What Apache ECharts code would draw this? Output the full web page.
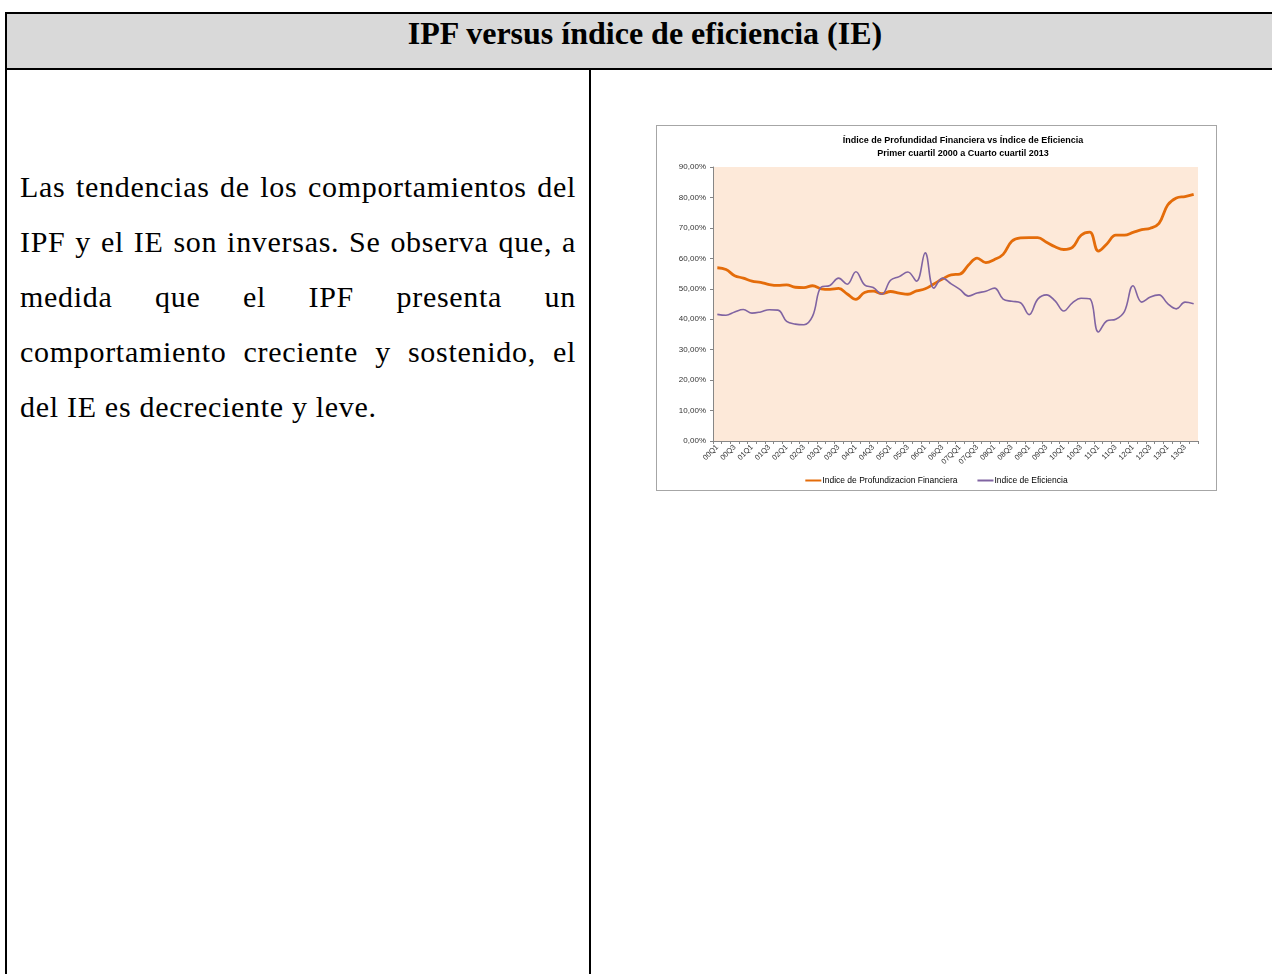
<!DOCTYPE html>
<html>
<head>
<meta charset="utf-8">
<script src="https://cdn.jsdelivr.net/npm/echarts@6/dist/echarts.min.js"></script>
<style>
	body{
		margin: 0;
		background: #ffffff;
		width: 1272px;
		height: 974px;
		overflow: hidden;
		position: relative;
	}
	.tablabox{
		position: absolute;
		left: 5px;
		top: 12px;
		width: 1280px;
		height: 1000px;
		border: 2px solid #000000;
		box-sizing: border-box;
	}
	.tablahead{
		position: absolute;
		left: 7px;
		top: 14px;
		width: 1276px;
		height: 54px;
		background: #d9d9d9;
		border-bottom: 2px solid #000000;
		font-family: "Liberation Serif", serif;
		font-weight: bold;
		font-size: 32px;
		line-height: 38px;
		text-align: center;
		color: #000000;
	}
	.tablasep{
		position: absolute;
		left: 589px;
		top: 69px;
		width: 2px;
		height: 920px;
		background: #000000;
	}
	.texto{
		position: absolute;
		left: 20px;
		top: 159px;
		width: 556px;
		font-family: "Liberation Serif", serif;
		font-size: 30px;
		letter-spacing: 0.7px;
		line-height: 55px;
		color: #000000;
	}
	.texto div{
		text-align: justify;
		text-align-last: justify;
		white-space: nowrap;
	}
	.texto div.ultima{
		text-align-last: left;
	}
	#grafico{
		position: absolute;
		left: 656px;
		top: 125px;
		width: 559px;
		height: 364px;
		border: 1px solid #a6a6a6;
	}
</style>
</head>
<body>
	<div class="tablabox"></div>
	<div class="tablahead">IPF versus índice de eficiencia (IE)</div>
	<div class="tablasep"></div>
	<div class="texto">
		<div>Las tendencias de los comportamientos del</div>
		<div>IPF y el IE son inversas. Se observa que, a</div>
		<div>medida que el IPF presenta un</div>
		<div>comportamiento creciente y sostenido, el</div>
		<div class="ultima">del IE es decreciente y leve.</div>
	</div>
	<div id="grafico"></div>
<script>
	var trimestres = [
		'00Q1','00Q2','00Q3','00Q4','01Q1','01Q2','01Q3','01Q4',
		'02Q1','02Q2','02Q3','02Q4','03Q1','03Q2','03Q3','03Q4',
		'04Q1','04Q2','04Q3','04Q4','05Q1','05Q2','05Q3','05Q4',
		'06Q1','06Q2','06Q3','06Q4','07QQ1','07QQ2','07QQ3','07QQ4',
		'08Q1','08Q2','08Q3','08Q4','09Q1','09Q2','09Q3','09Q4',
		'10Q1','10Q2','10Q3','10Q4','11Q1','11Q2','11Q3','11Q4',
		'12Q1','12Q2','12Q3','12Q4','13Q1','13Q2','13Q3','13Q4'
	];
	// Indice de Profundizacion Financiera (%)
	var ipf = [
		56.9, 56.3, 54.3, 53.5, 52.5, 52.1, 51.4, 51.1,
		51.3, 50.5, 50.4, 51.0, 50.0, 49.8, 50.1, 48.3,
		46.5, 48.8, 49.2, 48.4, 49.1, 48.6, 48.2, 49.3,
		50.0, 51.6, 53.2, 54.6, 54.8, 57.8, 60.1, 58.6,
		59.6, 61.3, 65.6, 66.7, 66.8, 66.8, 65.3, 63.8,
		62.9, 63.6, 67.6, 68.6, 62.4, 64.8, 67.6, 67.6,
		68.5, 69.4, 69.9, 71.5, 77.5, 79.8, 80.3, 81.0
	];
	// Indice de Eficiencia (%)
	var ie = [
		41.6, 41.3, 42.4, 43.2, 42.0, 42.4, 43.1, 43.0,
		39.3, 38.4, 38.2, 41.0, 50.6, 51.1, 53.5, 51.5,
		55.6, 51.3, 50.4, 48.2, 52.8, 54.0, 55.5, 52.5,
		61.8, 50.2, 53.5, 51.6, 49.8, 47.6, 48.6, 49.2,
		50.2, 46.6, 45.9, 45.4, 41.5, 46.6, 48.0, 46.0,
		42.7, 45.4, 46.9, 46.7, 35.8, 39.5, 40.0, 42.5,
		51.0, 45.6, 47.3, 48.0, 45.1, 43.4, 45.6, 45.1
	];
	var nombres = ['Indice de Profundizacion Financiera', 'Indice de Eficiencia'];

	var migrafico = echarts.init(document.getElementById('grafico'));
	var miopcion = {
		animation: false,
		title: {
			text: 'Índice de Profundidad Financiera vs Índice de Eficiencia\nPrimer cuartil 2000 a Cuarto cuartil 2013',
			left: 301,
			top: 3,
			textAlign: 'center',
			textStyle: {
				fontFamily: 'Liberation Sans',
				fontSize: 9,
				fontWeight: 'bold',
				color: '#000000',
				lineHeight: 13
			}
		},
		legend: {
			data: nombres,
			left: 'center',
			top: 345,
			icon: 'rect',
			itemWidth: 16,
			itemHeight: 2,
			itemGap: 20,
			textStyle: {
				fontFamily: 'Liberation Sans',
				fontSize: 8.5,
				color: '#000000',
				padding: [0, 0, 0, -4]
			}
		},
		grid: {
			left: 56,
			right: 18,
			top: 41,
			bottom: 49,
			show: true,
			backgroundColor: '#fde9d9',
			borderWidth: 0
		},
		xAxis: {
			type: 'category',
			data: trimestres,
			boundaryGap: true,
			axisLine: {lineStyle: {color: '#868686', width: 1}},
			axisTick: {show: true, interval: 0, length: 3, lineStyle: {color: '#868686'}},
			axisLabel: {
				interval: 1,
				rotate: 45,
				margin: 5,
				fontFamily: 'Liberation Sans',
				fontSize: 7.5,
				color: '#333333'
			},
			splitLine: {show: false}
		},
		yAxis: {
			type: 'value',
			min: 0,
			max: 90,
			interval: 10,
			axisLine: {show: true, lineStyle: {color: '#868686', width: 1}},
			axisTick: {show: true, length: 3, lineStyle: {color: '#868686'}},
			axisLabel: {
				margin: 7,
				fontFamily: 'Liberation Sans',
				fontSize: 8,
				color: '#333333',
				formatter: function (v) {
					return v.toFixed(2).replace('.', ',') + '%';
				}
			},
			splitLine: {show: false}
		},
		series: [
			{
				name: nombres[0],
				type: 'line',
				data: ipf,
				smooth: 0.4,
				showSymbol: false,
				itemStyle: {color: '#e46c0a'},
				lineStyle: {color: '#e46c0a', width: 2.8}
			},
			{
				name: nombres[1],
				type: 'line',
				data: ie,
				smooth: 0.4,
				showSymbol: false,
				itemStyle: {color: '#8064a2'},
				lineStyle: {color: '#8064a2', width: 1.6}
			}
		]
	};
	migrafico.setOption(miopcion);
</script>
</body>
</html>
